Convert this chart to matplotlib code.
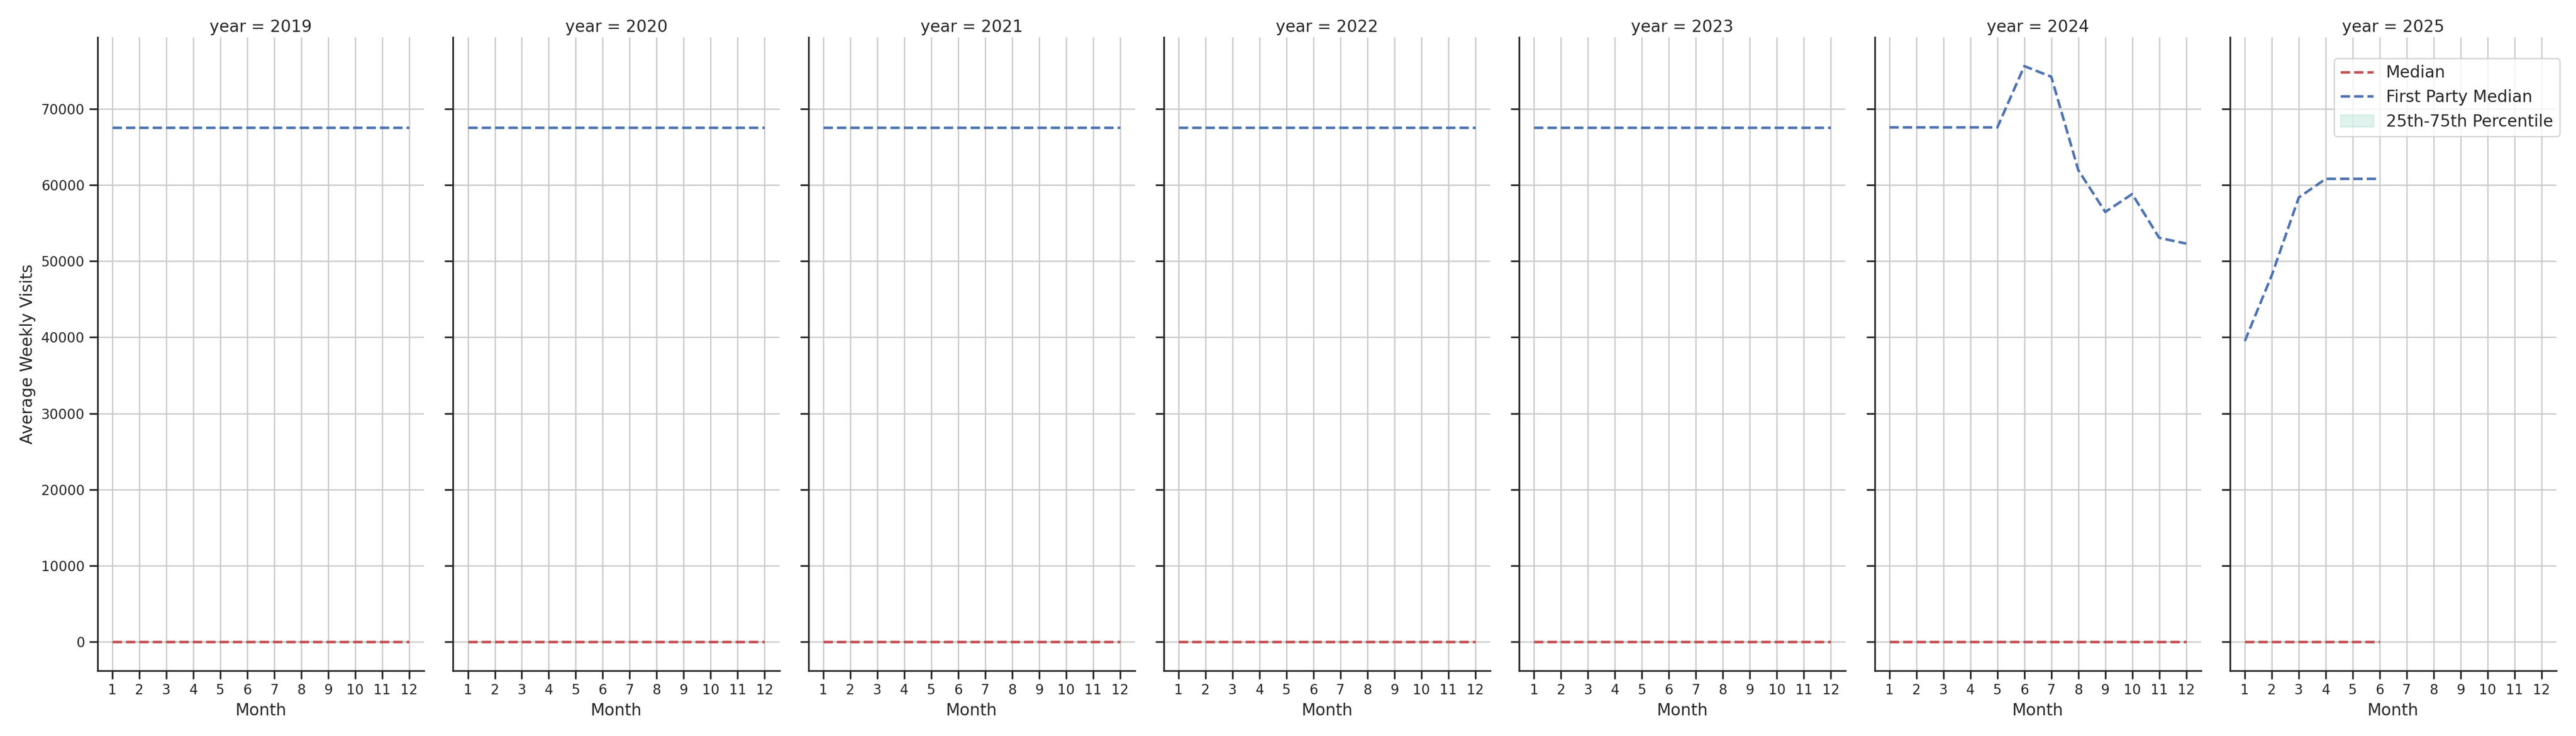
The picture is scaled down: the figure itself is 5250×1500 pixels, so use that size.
import matplotlib
matplotlib.use("Agg")
import matplotlib.pyplot as plt
import seaborn as sns

# chart data
years = [2019, 2020, 2021, 2022, 2023, 2024, 2025]
months = [1, 2, 3, 4, 5, 6, 7, 8, 9, 10, 11, 12]

median_2019 = [0, 0, 0, 0, 0, 0, 0, 0, 0, 0, 0, 0]
median_2020 = [0, 0, 0, 0, 0, 0, 0, 0, 0, 0, 0, 0]
median_2021 = [0, 0, 0, 0, 0, 0, 0, 0, 0, 0, 0, 0]
median_2022 = [0, 0, 0, 0, 0, 0, 0, 0, 0, 0, 0, 0]
median_2023 = [0, 0, 0, 0, 0, 0, 0, 0, 0, 0, 0, 0]
median_2024 = [0, 0, 0, 0, 0, 0, 0, 0, 0, 0, 0, 0]
median_2025 = [0, 0, 0, 0, 0, 0]

fp_2019 = [67550, 67550, 67550, 67550, 67550, 67550, 67550, 67550, 67550, 67550, 67550, 67550]
fp_2020 = [67550, 67550, 67550, 67550, 67550, 67550, 67550, 67550, 67550, 67550, 67550, 67550]
fp_2021 = [67550, 67550, 67550, 67550, 67550, 67550, 67550, 67550, 67550, 67550, 67550, 67550]
fp_2022 = [67550, 67550, 67550, 67550, 67550, 67550, 67550, 67550, 67550, 67550, 67550, 67550]
fp_2023 = [67550, 67550, 67550, 67550, 67550, 67550, 67550, 67550, 67550, 67550, 67550, 67550]
fp_2024 = [67550, 67550, 67550, 67550, 67550, 75600, 74200, 61950, 56450, 58800, 53050, 52300]
fp_2025 = [39500, 48150, 58350, 60800, 60800, 60800]

# 25th / 75th percentiles (collapsed to zero in the source)
p25_2019 = median_2019; p75_2019 = median_2019
p25_2020 = median_2020; p75_2020 = median_2020
p25_2021 = median_2021; p75_2021 = median_2021
p25_2022 = median_2022; p75_2022 = median_2022
p25_2023 = median_2023; p75_2023 = median_2023
p25_2024 = median_2024; p75_2024 = median_2024
p25_2025 = median_2025; p75_2025 = median_2025

medians = [median_2019, median_2020, median_2021, median_2022, median_2023, median_2024, median_2025]
first_party = [fp_2019, fp_2020, fp_2021, fp_2022, fp_2023, fp_2024, fp_2025]
p25s = [p25_2019, p25_2020, p25_2021, p25_2022, p25_2023, p25_2024, p25_2025]
p75s = [p75_2019, p75_2020, p75_2021, p75_2022, p75_2023, p75_2024, p75_2025]

sns.set_theme(style="ticks", rc={"axes.grid": True})
plt.rcParams['font.family'] = ['DejaVu Sans']

fig, axes = plt.subplots(1, 7, figsize=(26.25, 7.5), sharex=True, sharey=True)
fig.subplots_adjust(left=0.0379, right=0.9924, top=0.9493, bottom=0.0887, wspace=0.0887)

for ax, year, med, fp, lo, hi in zip(axes, years, medians, first_party, p25s, p75s):
    m = months[:len(fp)]
    band = ax.fill_between(m, lo, hi, color='#66c2a5', alpha=0.2, label='25th-75th Percentile')
    l_med, = ax.plot(m, med, linestyle='--', color='#c44e52', lw=1.85, label='Median')
    l_fp, = ax.plot(m, fp, linestyle='--', color='#4c72b0', lw=1.85, label='First Party Median')
    ax.set_title(f'year = {year}', fontsize=12, pad=4)
    ax.set_xlabel('Month', fontsize=12)
    ax.set_xticks(months)
    ax.tick_params(labelsize=10)
    sns.despine(ax=ax)

axes[0].set_ylabel('Average Weekly Visits', fontsize=12)

axes[-1].legend([l_med, l_fp, band], ['Median', 'First Party Median', '25th-75th Percentile'],
                loc='upper right', bbox_to_anchor=(0.9937, 0.9207),
                bbox_transform=fig.transFigure, borderaxespad=0, fontsize=12)

fig.savefig('out.png', dpi=200)
